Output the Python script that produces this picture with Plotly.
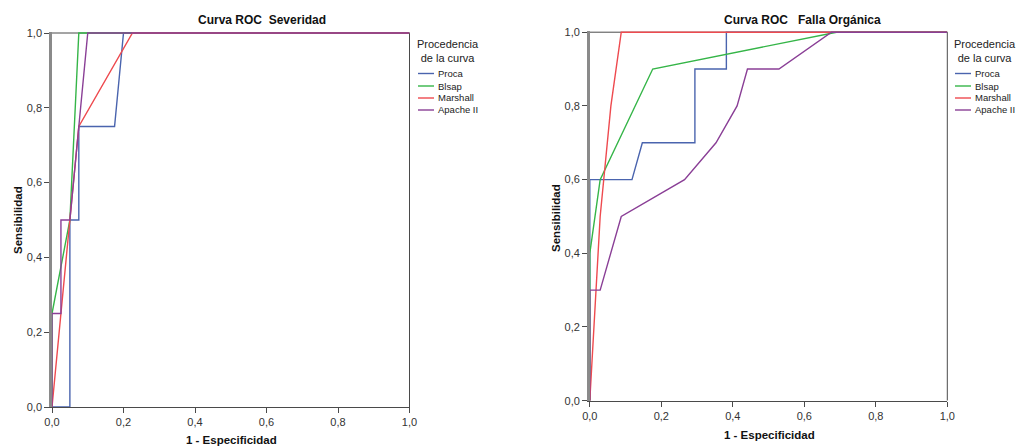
import plotly.graph_objects as go

W, H = 1018, 447

series_names = ["Proca", "Blsap", "Marshall", "Apache II"]
series_colors = ["#4a64ae", "#35b548", "#ee4a4f", "#8a3f96"]

# Curva ROC Severidad
sev_proca_x = [0, 0.05, 0.05, 0.075, 0.075, 0.175, 0.2, 1]
sev_proca_y = [0, 0, 0.5, 0.5, 0.75, 0.75, 1, 1]
sev_blsap_x = [0, 0, 0.05, 0.075, 1]
sev_blsap_y = [0, 0.25, 0.5, 1, 1]
sev_marshall_x = [0, 0.075, 0.225, 1]
sev_marshall_y = [0, 0.75, 1, 1]
sev_apache_x = [0, 0, 0.025, 0.025, 0.05, 0.075, 0.1, 1]
sev_apache_y = [0, 0.25, 0.25, 0.5, 0.5, 0.75, 1, 1]

# Curva ROC Falla Orgánica
fo_proca_x = [0, 0, 0.118, 0.147, 0.294, 0.294, 0.382, 0.382, 1]
fo_proca_y = [0, 0.6, 0.6, 0.7, 0.7, 0.9, 0.9, 1, 1]
fo_blsap_x = [0, 0, 0.029, 0.176, 0.69, 1]
fo_blsap_y = [0, 0.4, 0.6, 0.9, 1, 1]
fo_marshall_x = [0, 0.029, 0.059, 0.088, 1]
fo_marshall_y = [0, 0.5, 0.8, 1, 1]
fo_apache_x = [0, 0, 0.029, 0.088, 0.265, 0.353, 0.412, 0.441, 0.529, 0.676, 1]
fo_apache_y = [0, 0.3, 0.3, 0.5, 0.6, 0.7, 0.8, 0.9, 0.9, 1, 1]

tick_vals = [0, 0.2, 0.4, 0.6, 0.8, 1.0]

titles = ["Curva ROC\u00a0\u00a0Severidad", "Curva ROC\u00a0\u00a0\u00a0Falla Orgánica"]
x_title = "1 - Especificidad"
y_title = "Sensibilidad"
legend_title = "Procedencia<br>de la curva"

FONT = "Liberation Sans, Arial, sans-serif"

fig = go.Figure()

sev = [(sev_proca_x, sev_proca_y), (sev_blsap_x, sev_blsap_y),
       (sev_marshall_x, sev_marshall_y), (sev_apache_x, sev_apache_y)]
fo = [(fo_proca_x, fo_proca_y), (fo_blsap_x, fo_blsap_y),
      (fo_marshall_x, fo_marshall_y), (fo_apache_x, fo_apache_y)]

for (xs, ys), name, col in zip(sev, series_names, series_colors):
    fig.add_trace(go.Scatter(x=xs, y=ys, mode="lines", name=name,
                             line=dict(color=col, width=1.4),
                             xaxis="x", yaxis="y", showlegend=False))
for (xs, ys), name, col in zip(fo, series_names, series_colors):
    fig.add_trace(go.Scatter(x=xs, y=ys, mode="lines", name=name,
                             line=dict(color=col, width=1.4),
                             xaxis="x2", yaxis="y2", showlegend=False))

# window pixel -> paper fraction
def px(x):
    return x / W

def py(y):
    return 1 - y / H

common_x = dict(range=[0, 1], tickmode="array", tickvals=tick_vals, tickformat=".1f",
                showgrid=False, zeroline=False, showline=True, linecolor="#4a4a4a",
                linewidth=1.3, ticks="outside", ticklen=5, tickwidth=1, tickcolor="#4a4a4a",
                automargin=False,
                tickfont=dict(family=FONT, size=11, color="#333333"), fixedrange=True)
common_y = dict(range=[0, 1.004], tickmode="array", tickvals=tick_vals, tickformat=".1f",
                showgrid=False, zeroline=False, showline=True, linecolor="#8a8a8a",
                linewidth=2.5, ticks="outside", ticklen=5, tickwidth=1, tickcolor="#4a4a4a",
                automargin=False,
                tickfont=dict(family=FONT, size=11, color="#333333"), fixedrange=True)

# plot-area boxes in window pixels
L = dict(x0=52, x1=409.5, y0=407, y1=33)
R = dict(x0=589.8, x1=947.3, y0=400.7, y1=32.2)

def ydom(b):
    top = b["y1"] - 0.004 * (b["y0"] - b["y1"])
    return [py(b["y0"]), py(top)]

fig.update_layout(
    template="none",
    width=W, height=H, autosize=False, margin=dict(l=0, r=0, t=0, b=0, pad=0),
    paper_bgcolor="white", plot_bgcolor="white",
    separators=",.",
    showlegend=False,
    font=dict(family=FONT, color="#222222"),
    xaxis=dict(domain=[px(L["x0"]), px(L["x1"])], anchor="y", **common_x),
    yaxis=dict(domain=ydom(L), anchor="x", **common_y),
    xaxis2=dict(domain=[px(R["x0"]), px(R["x1"])], anchor="y2", **common_x),
    yaxis2=dict(domain=ydom(R), anchor="x2", **common_y),
)

shapes = []
annotations = []
for xr, yr in [("x", "y"), ("x2", "y2")]:
    # top frame and right frame
    shapes.append(dict(type="line", xref=xr + " domain", yref=yr, x0=0, x1=1, y0=1, y1=1,
                       line=dict(color="#4a4a4a", width=1), layer="below"))
    shapes.append(dict(type="line", xref=xr + " domain", yref=yr, x0=1, x1=1, y0=0, y1=1,
                       line=dict(color="#4a4a4a", width=1), layer="below"))

# titles
annotations.append(dict(text="<b>%s</b>" % titles[0], x=px(262), y=py(20), xref="paper", yref="paper",
                        showarrow=False, xanchor="center", yanchor="middle",
                        font=dict(family=FONT, size=12, color="#111111")))
annotations.append(dict(text="<b>%s</b>" % titles[1], x=px(802), y=py(20), xref="paper", yref="paper",
                        showarrow=False, xanchor="center", yanchor="middle",
                        font=dict(family=FONT, size=12, color="#111111")))
# axis titles
for cx, cy in [(231, 440), (769, 435)]:
    annotations.append(dict(text="<b>%s</b>" % x_title, x=px(cx), y=py(cy), xref="paper", yref="paper",
                            showarrow=False, xanchor="center", yanchor="middle",
                            font=dict(family=FONT, size=11.5, color="#111111")))
for cx, cy in [(18, 220), (556, 218)]:
    annotations.append(dict(text="<b>%s</b>" % y_title, x=px(cx), y=py(cy), xref="paper", yref="paper",
                            showarrow=False, xanchor="center", yanchor="middle", textangle=-90,
                            font=dict(family=FONT, size=11.5, color="#111111")))

# legends
rows = [73.5, 86, 98, 110]
for tcx, lx0 in [(448, 418), (985, 955)]:
    annotations.append(dict(text=legend_title, x=px(tcx), y=py(51), xref="paper", yref="paper",
                            showarrow=False, xanchor="center", yanchor="middle", align="center",
                            font=dict(family=FONT, size=11, color="#222222")))
    for ry, name, col in zip(rows, series_names, series_colors):
        shapes.append(dict(type="line", xref="paper", yref="paper",
                           x0=px(lx0), x1=px(lx0 + 16), y0=py(ry), y1=py(ry),
                           line=dict(color=col, width=1.4)))
        annotations.append(dict(text=name, x=px(lx0 + 18), y=py(ry), xref="paper", yref="paper",
                                showarrow=False, xanchor="left", yanchor="middle",
                                font=dict(family=FONT, size=9.5, color="#222222")))

fig.update_layout(shapes=shapes, annotations=annotations)

# remove the default 8px page margin so the 1018x447 figure fills the window exactly
fig.write_html(
    "out.html",
    config={"displayModeBar": False},
    post_script="document.body.style.margin='0';document.body.style.overflow='hidden';",
)
